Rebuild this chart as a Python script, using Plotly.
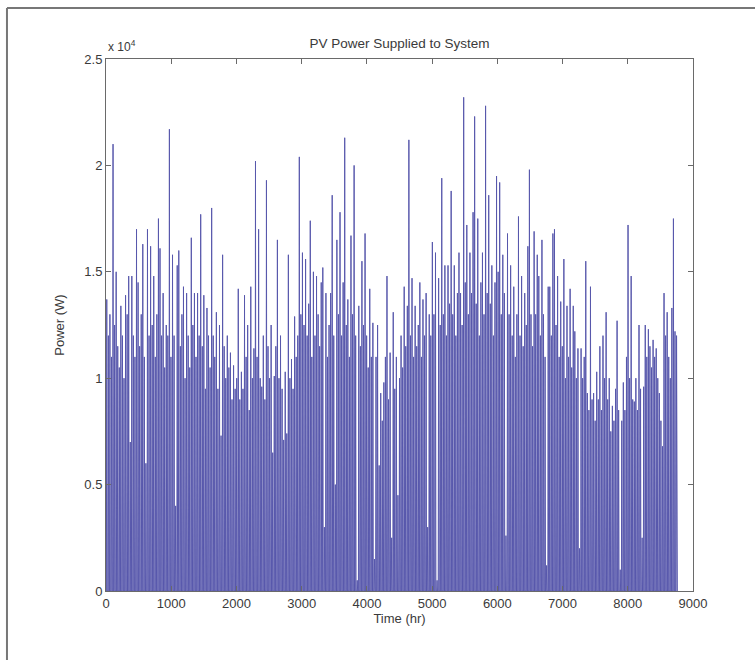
import plotly.graph_objects as go

# Daily peak PV power, in units of 10^4 W (one value per day)
peaks_q1 = [1.37, 1.20, 1.30, 1.10, 2.10, 1.25, 1.50, 1.15, 1.05, 1.34,
            1.20, 1.00, 1.39, 1.30, 1.48, 0.70, 1.48, 1.20, 1.10, 1.70,
            1.45, 1.15, 1.30, 1.63, 1.10, 0.60, 1.70, 1.20, 1.62, 1.25,
            1.48, 1.10, 1.30, 1.75, 1.61, 1.20, 1.40, 1.05, 1.25, 1.20,
            2.17, 1.10, 1.58, 1.20, 0.40, 1.53, 1.60, 1.15, 1.30, 1.43,
            1.00, 1.40, 1.20, 1.05, 1.66, 1.25, 1.40, 1.10, 1.40, 1.20,
            1.77, 1.15, 1.39, 0.95, 1.33, 1.20, 1.05, 1.80, 1.20, 1.10,
            1.31, 0.95, 1.25, 0.73, 1.58, 1.15, 1.00, 1.20, 1.05, 1.12,
            0.90, 1.06, 0.95, 1.00, 1.42, 0.90, 1.03, 0.95, 1.39, 1.10,
            1.25]
peaks_q2 = [0.85, 1.43, 1.00, 1.14, 2.02, 1.10, 1.70, 1.00, 0.96,
            1.20, 0.90, 1.93, 1.15, 1.00, 1.25, 0.65, 1.01, 1.15, 1.65,
            1.00, 1.20, 0.95, 0.71, 1.03, 0.74, 1.58, 1.00, 1.09, 0.95,
            1.29, 1.10, 1.20, 2.04, 1.30, 1.59, 1.25, 1.56, 1.20, 1.35,
            1.74, 1.10, 1.50, 1.20, 1.48, 1.30, 1.15, 1.45, 1.52, 0.30,
            1.40, 1.10, 1.25, 1.40, 1.86, 1.20, 0.50, 1.65, 1.30, 1.78,
            1.20, 1.45, 2.13, 1.25, 1.37, 1.10, 1.67, 1.30, 2.00, 1.20,
            0.05, 1.34, 1.15, 1.55, 1.25, 1.68, 1.20, 1.05, 1.42, 1.10,
            1.26, 0.15, 1.10, 1.25, 0.59, 0.93, 0.80, 0.98, 1.10, 1.48,
            0.90, 1.12]
peaks_q3 = [0.25, 1.31, 0.95, 1.10, 0.45, 1.00, 1.20, 1.05, 1.43,
            1.15, 1.34, 2.12, 1.20, 1.47, 1.10, 1.34, 1.15, 1.25, 1.45,
            1.10, 1.37, 1.20, 1.40, 0.30, 1.30, 1.20, 1.64, 1.30, 1.59,
            0.05, 1.47, 1.25, 1.94, 1.30, 1.53, 1.20, 1.53, 1.35, 1.88,
            1.30, 1.53, 1.20, 1.40, 1.59, 1.40, 1.25, 2.32, 1.45, 1.72,
            1.30, 1.59, 1.40, 1.78, 2.23, 1.35, 1.75, 1.20, 1.45, 1.59,
            1.30, 2.28, 1.40, 1.86, 1.35, 1.53, 1.20, 1.45, 1.95, 1.50,
            1.92, 1.30, 1.58, 1.40, 0.26, 1.68, 1.30, 1.53, 1.20, 1.43,
            1.10, 1.30, 1.76, 1.20, 1.48, 1.15, 1.40, 1.25, 1.62, 1.98,
            1.30, 1.15, 1.69]
peaks_q4 = [1.30, 1.58, 1.48, 1.20, 1.65, 1.30, 1.10, 0.12, 1.43,
            1.43, 1.20, 1.68, 1.70, 1.25, 1.48, 1.10, 1.36, 1.15, 1.56,
            1.00, 1.34, 1.10, 1.42, 1.05, 1.34, 1.22, 1.00, 1.14, 0.20,
            1.14, 1.00, 1.10, 1.55, 0.93, 0.85, 1.43, 0.90, 0.93, 0.80,
            1.03, 0.90, 1.15, 0.85, 1.20, 1.00, 1.31, 0.90, 1.00, 0.75,
            0.87, 0.80, 0.95, 1.27, 0.85, 0.10, 0.80, 0.98, 0.85, 1.10,
            1.72, 1.00, 1.48, 0.90, 0.89, 1.00, 0.85, 1.25, 0.95, 0.25,
            0.96, 1.25, 1.10, 1.23, 1.15, 1.05, 1.18, 1.10, 1.14, 1.00,
            0.93, 0.80, 0.68, 1.40, 1.20, 1.31, 1.10, 1.00, 1.33, 1.75,
            1.22, 1.20]

POWER_UNIT = 1e4          # values above are in units of 10^4 W
HOURS_PER_DAY = 24

x_ticks = [0, 1000, 2000, 3000, 4000, 5000, 6000, 7000, 8000, 9000]
y_tickvals = [0, 5000, 10000, 15000, 20000, 25000]
y_ticktext = ["0", "0.5", "1", "1.5", "2", "2.5"]

daily_peaks = peaks_q1 + peaks_q2 + peaks_q3 + peaks_q4

# hourly trace: zero at night, daily peak at noon
hours, power = [0], [0]
for d, p in enumerate(daily_peaks):
    base = d * HOURS_PER_DAY
    hours += [base + 6, base + 12, base + 18]
    power += [0, p * POWER_UNIT, 0]
hours.append(len(daily_peaks) * HOURS_PER_DAY)
power.append(0)

fig = go.Figure()
fig.add_trace(go.Scatter(
    x=hours, y=power, mode="lines",
    line=dict(color="rgb(88,88,172)", width=1),
    hoverinfo="skip", showlegend=False,
))

FONT = "Liberation Sans, Arial, Helvetica, sans-serif"
TXT = "#3a3a3a"
axis_common = dict(
    showline=True, mirror="ticks", linecolor="#6a6a6a", linewidth=1,
    ticks="inside", ticklen=5, tickcolor="#6a6a6a",
    showgrid=False, zeroline=False,
    tickfont=dict(family=FONT, size=13, color=TXT),
)

FRAME = dict(color="#777777", width=2)

fig.update_layout(
    width=755, height=660,
    margin=dict(l=106, r=62, t=59, b=69),
    paper_bgcolor="white", plot_bgcolor="white",
    title=dict(text="PV Power Supplied to System", x=0.5, xref="paper",
               y=1.0, yref="paper", yanchor="bottom", pad=dict(b=11),
               font=dict(family=FONT, size=13.5, color=TXT)),
    xaxis=dict(range=[0, 9000], tickvals=x_ticks,
               title=dict(text="Time (hr)", standoff=0,
                          font=dict(family=FONT, size=13, color=TXT)),
               **axis_common),
    yaxis=dict(range=[0, 25000], tickvals=y_tickvals, ticktext=y_ticktext,
               title=dict(text="Power (W)", standoff=16,
                          font=dict(family=FONT, size=13, color=TXT)),
               **axis_common),
    annotations=[dict(text="x 10<sup>4</sup>", x=0.0, xref="paper",
                      y=1.0, yref="paper", xanchor="left", yanchor="bottom",
                      showarrow=False, yshift=3,
                      font=dict(family=FONT, size=12, color=TXT))],
    shapes=[
        dict(type="line", xref="paper", yref="paper",
             x0=-0.1687, x1=-0.1687, y0=-0.2, y1=1.0959, line=FRAME, layer="below"),
        dict(type="line", xref="paper", yref="paper",
             x0=-0.1687, x1=1.2, y0=1.0959, y1=1.0959, line=FRAME, layer="below"),
    ],
)

# remove the browser's default 8px body margin so the figure fills the window
fig.write_html(
    "out.html",
    config={"displayModeBar": False},
    post_script="document.body.style.margin='0';document.body.style.overflow='hidden';",
)
